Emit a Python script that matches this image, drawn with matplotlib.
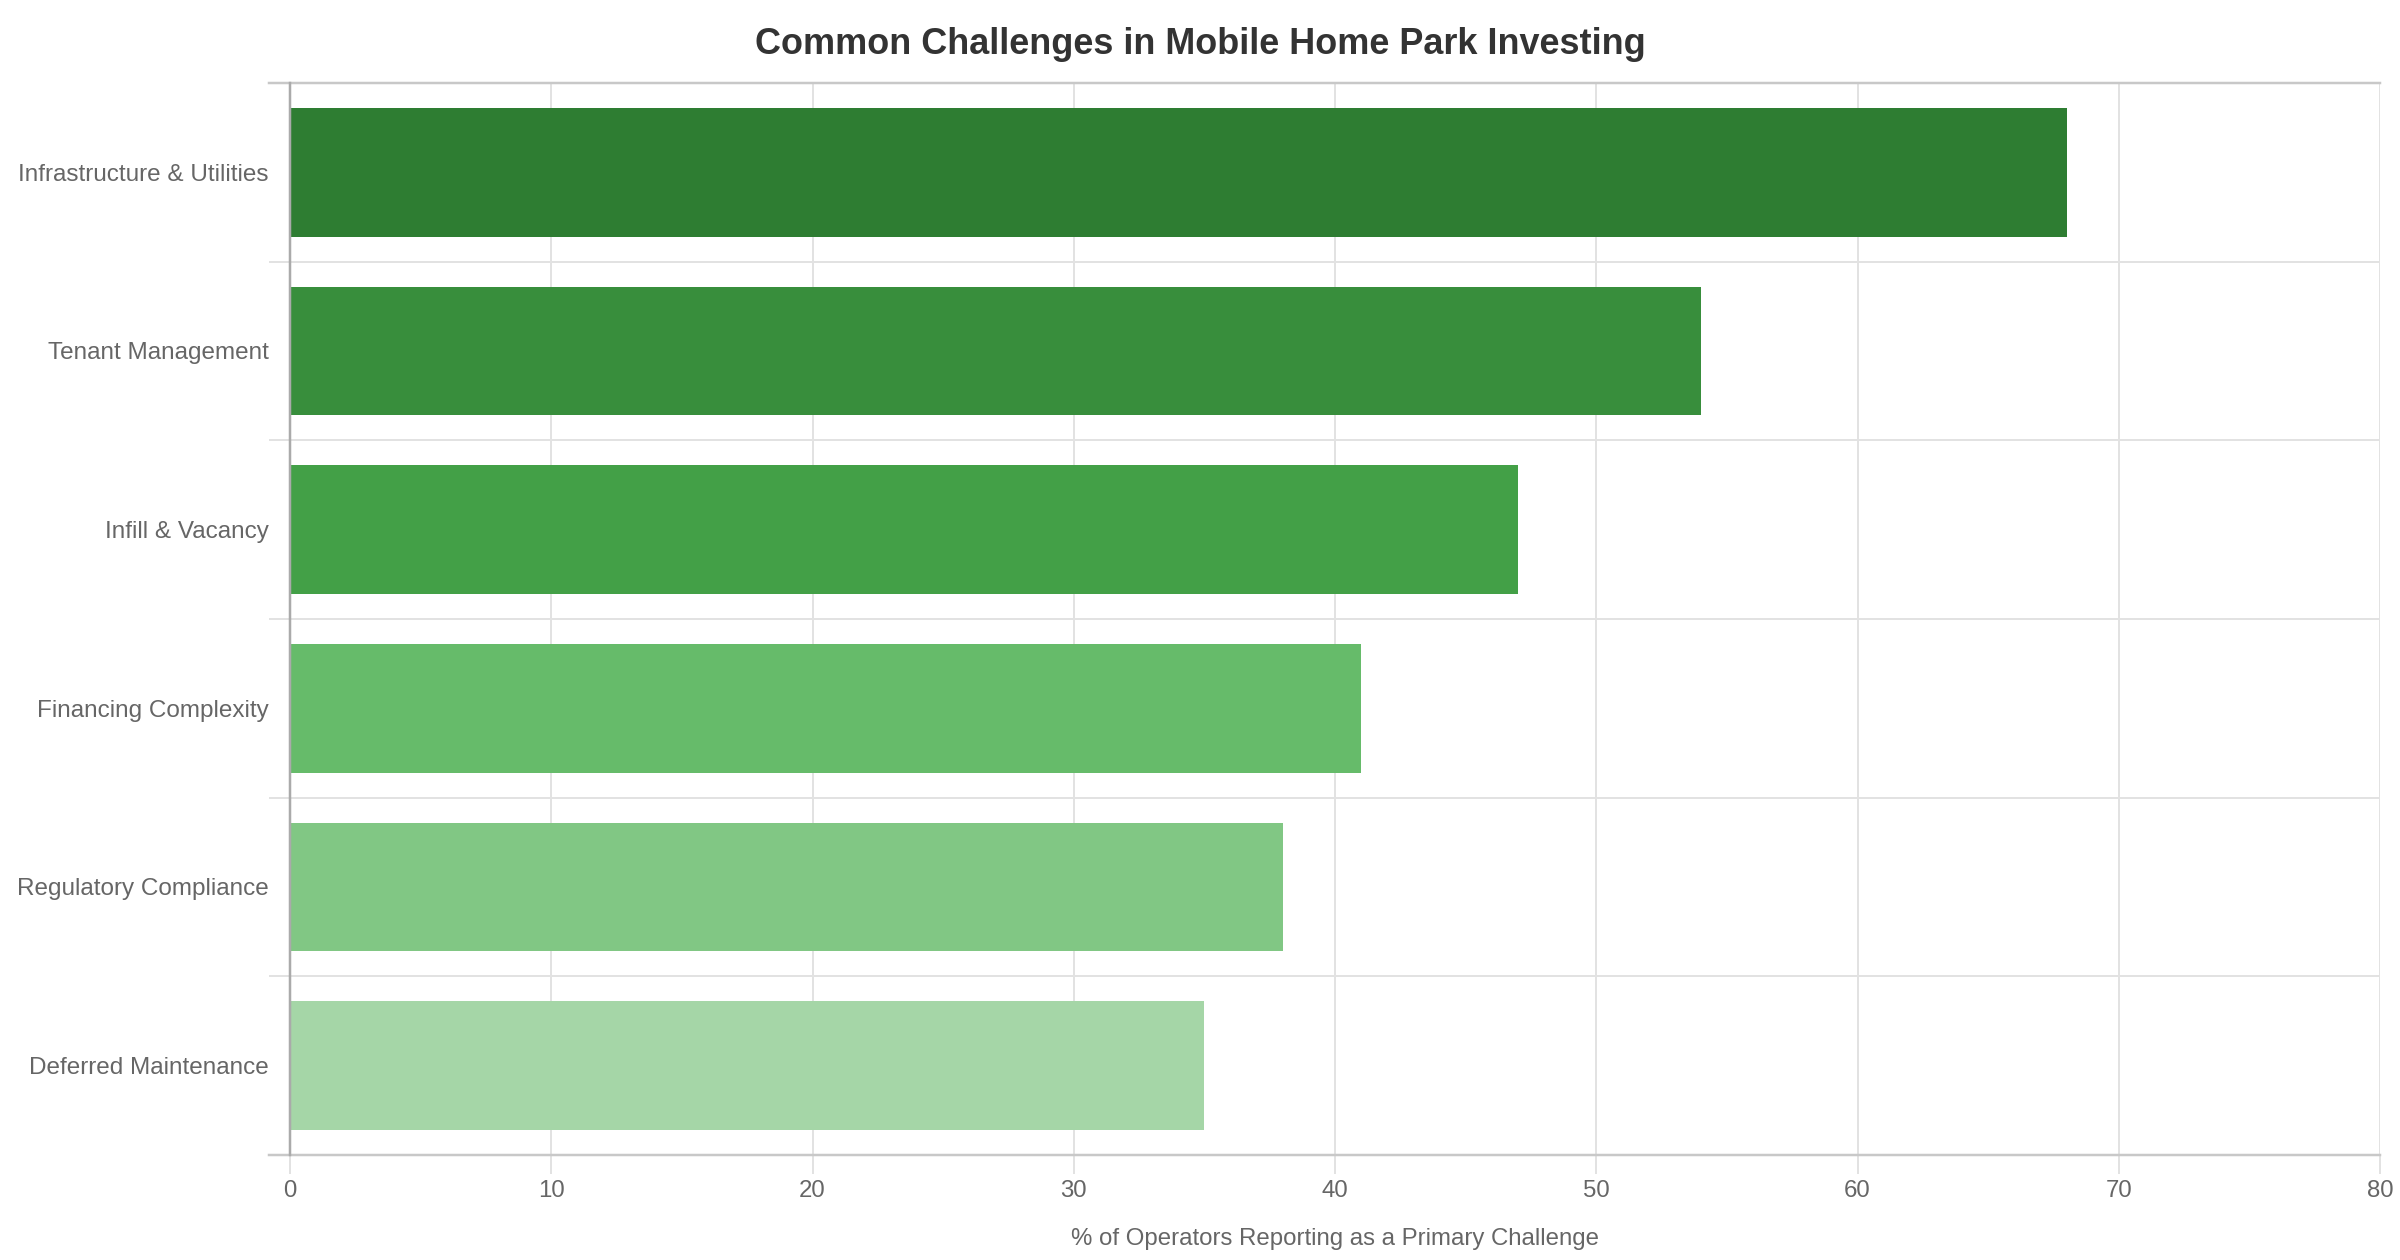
import matplotlib
matplotlib.use("Agg")
import matplotlib.pyplot as plt
import numpy as np

categories = ["Infrastructure & Utilities", "Tenant Management", "Infill & Vacancy",
              "Financing Complexity", "Regulatory Compliance", "Deferred Maintenance"]
values = [68, 54, 47, 41, 38, 35]
bar_colors = ["#2e7d32", "#388e3c", "#43a047", "#66bb6a", "#81c784", "#a5d6a7"]
x_ticks = [0, 10, 20, 30, 40, 50, 60, 70, 80]
title = "Common Challenges in Mobile Home Park Investing"
x_label = "% of Operators Reporting as a Primary Challenge"

W, H, DPI = 2400, 1260, 100
px = 72.0 / DPI  # points per pixel

plt.rcParams["font.family"] = ["Liberation Sans", "DejaVu Sans"]

fig = plt.figure(figsize=(W / DPI, H / DPI), dpi=DPI)
left, right, top, bottom = 290, 2380, 83, 1155
ax = fig.add_axes([left / W, 1 - bottom / H, (right - left) / W, (bottom - top) / H])

y = np.arange(len(categories))
ax.barh(y, values, height=0.72, color=bar_colors, edgecolor="none", zorder=2)

ax.set_xlim(0, 80)
ax.set_ylim(len(categories) - 0.5, -0.5)

ax.set_xticks(x_ticks)
ax.set_xticklabels([str(t) for t in x_ticks])
ax.set_yticks(y)
ax.set_yticklabels(categories)
ax.set_yticks(np.arange(-0.5, len(categories) + 0.5, 1), minor=True)

grid_c = "#e2e2e2"
ax.grid(True, axis="x", which="major", color=grid_c, linewidth=2 * px, zorder=0)
ax.grid(True, axis="y", which="minor", color=grid_c, linewidth=2 * px, zorder=0)
ax.set_axisbelow(True)

ax.tick_params(axis="x", which="major", length=19 * px, width=2 * px, color=grid_c,
               labelsize=24 * px, labelcolor="#666666", pad=6 * px)
ax.tick_params(axis="y", which="major", length=0, labelsize=24.3 * px,
               labelcolor="#666666", pad=21 * px)
ax.tick_params(axis="y", which="minor", length=21 * px, width=2 * px, color=grid_c)

for s in ["top", "right", "bottom"]:
    ax.spines[s].set_visible(False)
ax.spines["left"].set_color("#aaaaaa")
ax.spines["left"].set_linewidth(2.5 * px)
ax.spines["left"].set_zorder(3)

# darker boundary lines at top and bottom of the category axis
ext = -21.0 / (right - left)
for yb in (-0.5, len(categories) - 0.5):
    ax.axhline(yb, xmin=ext, xmax=1, color="#c8c8c8", linewidth=2.5 * px,
               clip_on=False, zorder=1)

t0 = ax.xaxis.get_major_ticks()[0]
t0.tick1line.set_color("#aaaaaa")
t0.gridline.set_visible(False)

ax.set_xlabel(x_label, fontsize=24 * px, color="#666666", labelpad=26 * px)

fig.text(0.5, 1 - 45 / H, title, ha="center", va="center", fontsize=36 * px,
         fontweight="bold", color="#333333")

fig.savefig("out.png", dpi=DPI, facecolor="white")
